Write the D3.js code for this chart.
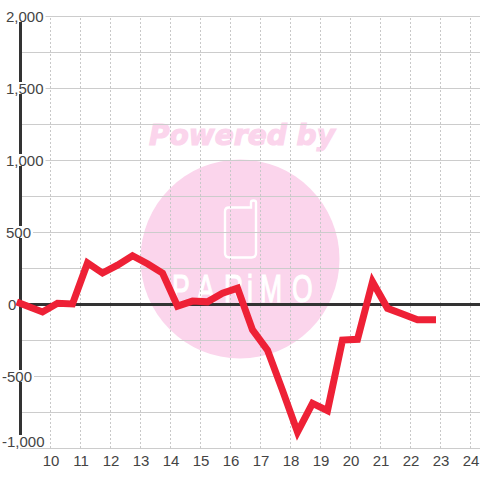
<!DOCTYPE html>
<html><head><meta charset="utf-8">
<script src="https://cdn.jsdelivr.net/npm/d3@7/dist/d3.min.js"></script>
<style>html,body{margin:0;padding:0;background:#fff}svg{display:block}</style>
</head><body><svg id="c" width="480" height="480"></svg>
<script>
const hours = [9,9.75,10.25,10.75,11.25,11.75,12.25,12.75,13.25,13.75,14.25,14.75,15.25,15.75,16.25,16.75,17.25,17.75,18.25,18.75,19.25,19.75,20.25,20.75,21.25,21.75,22.25,22.75];
const values = [5,-55,5,0,285,215,270,335,280,215,-15,20,15,75,110,-180,-320,-600,-890,-690,-740,-250,-245,155,-30,-70,-110,-110];
const xTicks = [10,11,12,13,14,15,16,17,18,19,20,21,22,23,24];
const yLabelled = [2000,1500,1000,500,0,-500,-1000];
const yGrid = [2000,1750,1500,1250,1000,750,500,250,0,-250,-500,-750,-1000];
const banner = "Powered by";
const brand = "PARiMO";

const svg = d3.select("#c");
const font = "'Liberation Sans',Arial,sans-serif";
const x = d3.scaleLinear().domain([9,24]).range([20,470]);
const y = d3.scaleLinear().domain([-1000,2000]).range([448,16]);

// watermark
const wm = svg.append("g");
wm.append("circle").attr("cx",240).attr("cy",259).attr("r",99.5).attr("fill","#fbd5ec");
wm.append("text").text(banner).attr("x",242).attr("y",145).attr("text-anchor","middle")
  .attr("font-family","'DejaVu Sans'").attr("font-weight","bold").attr("font-style","italic")
  .attr("font-size",29).attr("fill","#fbd5ec").attr("stroke","#fbd5ec").attr("stroke-width",1.2)
  .attr("textLength",186).attr("lengthAdjust","spacingAndGlyphs");
wm.append("path").attr("d","M229 207.5H251V202.5Q251 200.5 253.5 200.5Q256 200.5 256 202.5V253Q256 257.5 251.5 257.5H229.5Q225 257.5 225 253V211.5Q225 207.5 229 207.5Z")
  .attr("fill","none").attr("stroke","#fff").attr("stroke-width",2.4);
const sx = 0.68;
wm.append("text").text(brand)
  .attr("transform",`translate(172,302) scale(${sx},1)`)
  .attr("x",[0,25,52,75,88,120].map(d=>d/sx).join(" ")).attr("y",0)
  .attr("font-family","'Liberation Sans Narrow','Liberation Sans'").attr("font-size",39)
  .attr("fill","#fff").attr("stroke","#fff").attr("stroke-width",1.2);

// grids
const hAxis = d3.axisLeft(y).tickValues(yGrid).tickSize(-460).tickFormat("");
const hg = svg.append("g").attr("transform","translate(20,0)").call(hAxis);
hg.select(".domain").remove();
hg.selectAll("line").attr("stroke","#ccc").attr("stroke-width",1);
const vAxis = d3.axisBottom(x).tickValues(xTicks).tickSize(-432).tickFormat("");
const vg = svg.append("g").attr("transform","translate(0,448)").call(vAxis);
vg.select(".domain").remove();
vg.selectAll("line").attr("stroke","#c8c8c8").attr("stroke-dasharray","2,2");

// axis lines
svg.append("line").attr("x1",20.5).attr("x2",20.5).attr("y1",y(2000)).attr("y2",y(-1000)-8).attr("stroke","#333").attr("stroke-width",3);
svg.append("line").attr("x1",20).attr("x2",480).attr("y1",y(0)+0.5).attr("y2",y(0)+0.5).attr("stroke","#333").attr("stroke-width",3);

// y labels on white plates
const fmt = d3.format(",");
const yl = svg.append("g");
yLabelled.forEach(v=>{
  const tx = v===0 ? 8 : (v<0 ? 2 : 6);
  const cy = v===-1000 ? y(v)-7 : y(v);
  const t = yl.append("text").text(fmt(v).replace("\u2212","-")).attr("x",tx).attr("y",cy+5.5)
    .attr("font-family",font).attr("font-size",15).attr("fill","#444");
  const b = t.node().getBBox();
  yl.insert("rect","text").attr("x",b.x-2).attr("y",cy-6).attr("width",b.width+4).attr("height",12).attr("fill","#fff");
});

// data line
const line = d3.line().x((d,i)=>x(hours[i])).y(d=>y(d));
svg.append("path").datum(values).attr("d",line).attr("fill","none")
  .attr("stroke","#ee2136").attr("stroke-width",7).attr("stroke-linecap","square").attr("stroke-linejoin","miter");

// x labels
const xl = svg.append("g");
xTicks.forEach(t=>{
  xl.append("text").text(t).attr("x",x(t)+1).attr("y",466).attr("text-anchor","middle")
    .attr("font-family",font).attr("font-size",15).attr("fill","#444");
});
</script></body></html>
